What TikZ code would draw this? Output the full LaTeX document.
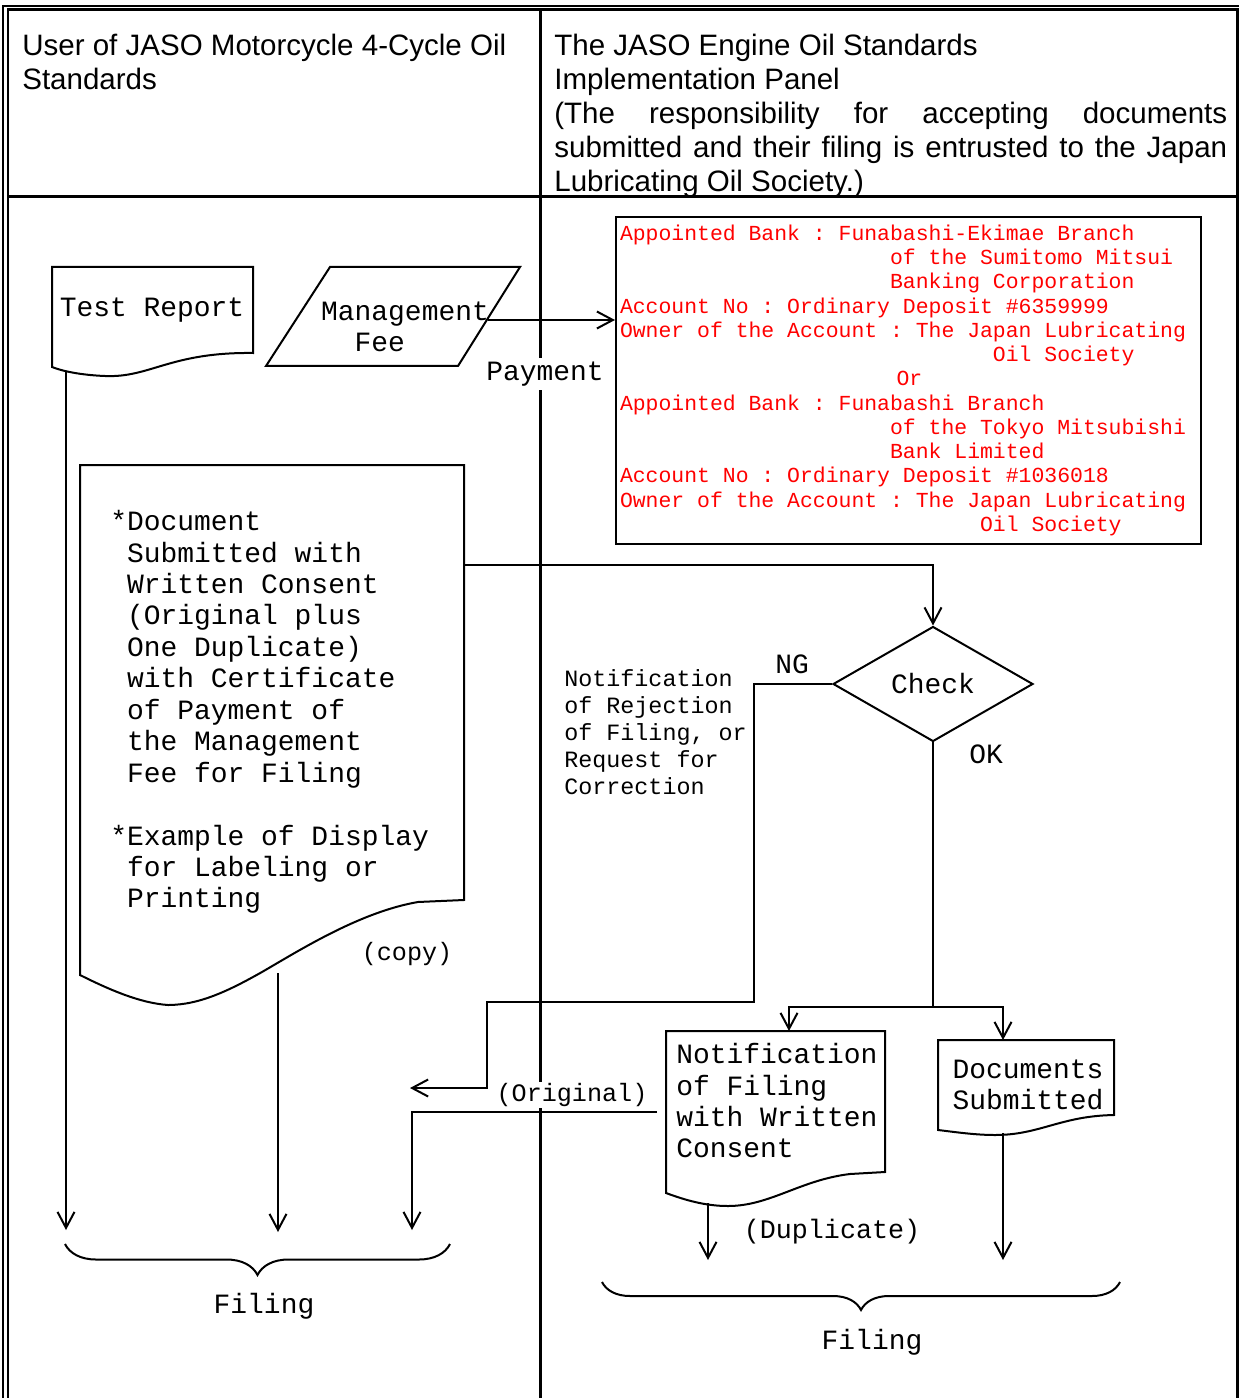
\documentclass[tikz,border=0pt]{standalone}
\usepackage{fontspec}
\setmainfont{Liberation Sans}
\setmonofont{Liberation Mono}
\usetikzlibrary{arrows.meta}
\usetikzlibrary{shapes.geometric}
\usetikzlibrary{decorations.pathreplacing}

\newcommand{\hdrfont}{\fontsize{16.8}{19.3}\selectfont}
\newcommand{\monofont}{\ttfamily\fontsize{15.9}{17.9}\selectfont}
\newcommand{\bankfont}{\ttfamily\fontsize{12.2}{13.8}\selectfont}
\newcommand{\notefont}{\ttfamily\fontsize{13.3}{15.4}\selectfont}
\newcommand{\smallmono}{\ttfamily\fontsize{14.3}{16}\selectfont}
\newcommand{\lead}{\hspace*{0.6em}}

\begin{document}
\begin{tikzpicture}[x=0.02cm, y=-0.02cm,
    ln/.style={line width=0.04cm},
    frm/.style={line width=0.06cm},
    arr/.style={ln, -{Straight Barb[length=0.32cm,width=0.34cm]}},
    brc/.style={ln, decorate, decoration={brace, amplitude=#1}},
    txt/.style={font=\monofont, inner sep=0pt},
    hdr/.style={font=\hdrfont, inner sep=0pt, anchor=north west}]
    \useasboundingbox (0,0) rectangle (1239,1398);
    % frame
    \draw [line width=0.025cm] (3,1400) -- (3,6) -- (1239,6);
    \draw [frm] (8,1400) -- (8,10) -- (1237,10) -- (1237,1400);
    \draw [frm] (540,10) -- (540,1400);
    \draw [frm] (8,197) -- (1237,197);
    % headings
    \node [hdr, align=left] (user) at (22,34) {User of JASO Motorcycle 4-Cycle Oil\\Standards};
    \node [hdr, text width=13.46cm, align=justify] (panel) at (554,34) {The JASO Engine Oil Standards\\Implementation Panel\\(The responsibility for accepting documents\linebreak submitted and their filing is entrusted to the Japan\linebreak Lubricating Oil Society.)};
    % test report
    \draw [ln] (52,267) -- (253,267) -- (253,353) .. controls (170,352) and (150,378) .. (105,376) .. controls (80,375) and (62,371) .. (52,367) -- cycle;
    \node [txt] (report) at (152,310) {Test Report};
    \coordinate (report-out) at (66,372);
    % management fee
    \draw [ln] (330,267) -- (520,267) -- (458,366) -- (266,366) -- cycle;
    \node [txt, align=left] (fee) at (405,327) {Management\\\phantom{Ma}Fee};
    \coordinate (fee-out) at (488,320);
    % bank account
    \node [draw, ln, anchor=north west, font=\bankfont, text=red, text width=11.54cm, align=left, inner xsep=0.08cm, inner ysep=4.5pt] (bank) at (615,216) {\spaceskip=0pt\xspaceskip=0pt\relax
Appointed Bank : Funabashi-Ekimae Branch\\
\hspace*{12.6em}of the Sumitomo Mitsui\\
\hspace*{12.6em}Banking Corporation\\
Account No : Ordinary Deposit \#6359999\\
Owner of the Account : The Japan Lubricating\\
\hspace*{17.4em}Oil Society\\
\hspace*{12.9em}Or\\
Appointed Bank : Funabashi Branch\\
\hspace*{12.6em}of the Tokyo Mitsubishi\\
\hspace*{12.6em}Bank Limited\\
Account No : Ordinary Deposit \#1036018\\
Owner of the Account : The Japan Lubricating\\
\hspace*{16.8em}Oil Society};
    \draw [arr] (fee-out) -- (bank.west |- fee-out);
    \node [txt, fill=white, inner sep=2pt] (pay) at (545,374) {Payment};
    % documents submitted with written consent
    \draw [ln] (80,465) -- (464,465) -- (464,900) -- (418,902) .. controls (360,912) and (300,950) .. (262,972) .. controls (230,990) and (200,1005) .. (168,1005) .. controls (140,1003) and (110,990) .. (80,975) -- cycle;
    \node [txt, anchor=north west, align=left] (consent) at (110,510) {*Document\\\lead Submitted with\\\lead Written Consent\\\lead (Original plus\\\lead One Duplicate)\\\lead with Certificate\\\lead of Payment of\\\lead the Management\\\lead Fee for Filing\\[17.9pt]*Example of Display\\\lead for Labeling or\\\lead Printing};
    \node [font=\smallmono, inner sep=0pt] (copy) at (407,954) {(copy)};
    \coordinate (consent-out) at (464,565);
    \coordinate (consent-bot) at (278,973);
    % check
    \node [draw, ln, diamond, minimum width=4cm, minimum height=2.3cm, inner sep=0pt, font=\monofont] (chk) at (933,684) {Check};
    \draw [arr] (consent-out) -| (chk.north);
    \node [txt] (ng) at (792,664) {NG};
    \node [txt] (ok) at (986,754) {OK};
    \node [font=\notefont, inner sep=0pt, anchor=north west, align=left] (reject) at (564,669) {Notification\\of Rejection\\of Filing, or\\Request for\\Correction};
    \coordinate (ret) at (410,1088);
    \draw [arr] (chk.west) -- ++(-78,0) |- (487,1002) |- (ret);
    % filing notification and documents
    \coordinate (split) at (933,1007);
    \coordinate (notif-in) at (789,1031);
    \coordinate (docs-in) at (1003,1040);
    \draw [arr] (chk.south) -- (split) -| (notif-in);
    \draw [arr] (split) -| (docs-in);
    \draw [ln] (666,1031) -- (885,1031) -- (885,1172) -- (850,1174) .. controls (800,1180) and (770,1206) .. (728,1206) .. controls (705,1206) and (685,1200) .. (666,1193) -- cycle;
    \node [txt, anchor=north west, align=left] (notif) at (676,1043) {Notification\\of Filing\\with Written\\Consent};
    \draw [ln] (938,1040) -- (1114,1040) -- (1114,1115) .. controls (1060,1116) and (1040,1135) .. (995,1135) .. controls (975,1135) and (955,1132) .. (938,1130) -- cycle;
    \node [txt, align=center] (docs) at (1028,1085) {Documents\\Submitted};
    \coordinate (orig-out) at (657,1112);
    \coordinate (notif-bot) at (708,1203);
    \coordinate (docs-bot) at (1003,1133);
    % filing (user side)
    \coordinate (file1) at (66,1230);
    \coordinate (file2) at (278,1232);
    \coordinate (file3) at (412,1230);
    \draw [arr] (report-out) -- (file1);
    \draw [arr] (consent-bot) -- (file2);
    \draw [arr] (orig-out) -| (file3);
    \node [font=\smallmono, fill=white, inner sep=1pt] (orig) at (572,1095) {(Original)};
    \draw [brc=0.62cm] (450,1244) -- (65,1244);
    \node [txt] (filing1) at (264,1306) {Filing};
    % filing (panel side)
    \coordinate (file4) at (708,1260);
    \coordinate (file5) at (1003,1260);
    \draw [arr] (notif-bot) -- (file4);
    \draw [arr] (docs-bot) -- (file5);
    \node [font=\ttfamily\fontsize{15.2}{17}\selectfont, inner sep=0pt] (dup) at (832,1232) {(Duplicate)};
    \draw [brc=0.56cm] (1120,1282) -- (602,1282);
    \node [txt] (filing2) at (872,1342) {Filing};
\end{tikzpicture}
\end{document}
